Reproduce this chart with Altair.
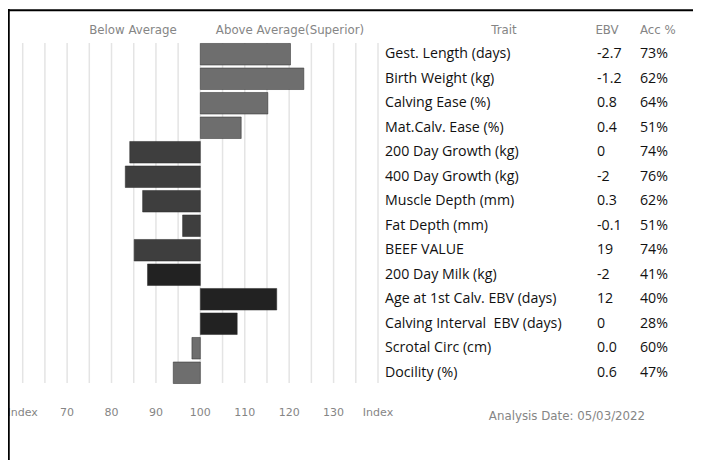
import altair as alt
import pandas as pd

traits = [
    "Gest. Length (days)", "Birth Weight (kg)", "Calving Ease (%)", "Mat.Calv. Ease (%)",
    "200 Day Growth (kg)", "400 Day Growth (kg)", "Muscle Depth (mm)", "Fat Depth (mm)",
    "BEEF VALUE", "200 Day Milk (kg)", "Age at 1st Calv. EBV (days)",
    "Calving Interval\u00a0 EBV (days)", "Scrotal Circ (cm)", "Docility (%)",
]
index_values = [120.3, 123.3, 115.2, 109.2, 84.1, 83.1, 87.0, 96.0, 85.1, 88.1, 117.2, 108.3, 98.1, 93.9]
groups = ["A", "A", "A", "A", "B", "B", "B", "B", "B", "C", "C", "C", "A", "A"]
ebv = ["-2.7", "-1.2", "0.8", "0.4", "0", "-2", "0.3", "-0.1", "19", "-2", "12", "0", "0.0", "0.6"]
acc = ["73%", "62%", "64%", "51%", "74%", "76%", "62%", "51%", "74%", "41%", "40%", "28%", "60%", "47%"]

grid_values = list(range(60, 145, 5))
tick_values = [60, 70, 80, 90, 100, 110, 120, 130, 140]
tick_labels = ["Index", "70", "80", "90", "100", "110", "120", "130", "Index"]

df = pd.DataFrame({"trait": traits, "index": index_values, "group": groups, "ebv": ebv, "acc": acc})
grid_df = pd.DataFrame({"v": grid_values})
tick_df = pd.DataFrame({"v": tick_values, "label": tick_labels})

xscale = alt.Scale(domain=[60, 140], range=[14.7, 370])
yscale = alt.Scale(domain=traits, range=[34, 377], paddingInner=0.12, paddingOuter=0.06)

W, H = 685, 452
axis_font = "DejaVu Sans"
text_font = "Open Sans"
grey = "#858585"

grid = alt.Chart(grid_df).mark_rule(color="#e4e4e4", strokeWidth=1.5).encode(
    x=alt.X("v:Q", scale=xscale, axis=None),
    y=alt.value(35), y2=alt.value(375),
)

bars = alt.Chart(df).mark_bar(strokeWidth=1, stroke="#2a2a2a", strokeOpacity=0.5).encode(
    x=alt.X("index:Q", scale=xscale, axis=None),
    x2=alt.datum(100),
    y=alt.Y("trait:N", scale=yscale, axis=None, sort=traits),
    color=alt.Color("group:N", scale=alt.Scale(domain=["A", "B", "C"], range=["#6e6e6e", "#3e3e3e", "#222222"]), legend=None),
)

ytext = alt.Y("trait:N", scale=yscale, axis=None, sort=traits)
tstyle = dict(align="left", baseline="middle", font=text_font, fontSize=14.2, color="#111")
trait_text = alt.Chart(df).mark_text(**tstyle).encode(x=alt.value(377), y=ytext, text="trait:N")
ebv_text = alt.Chart(df).mark_text(**tstyle).encode(x=alt.value(589), y=ytext, text="ebv:N")
acc_text = alt.Chart(df).mark_text(**tstyle).encode(x=alt.value(632), y=ytext, text="acc:N")

def header(txt, x, align="center", size=11.8, y=22):
    return alt.Chart(pd.DataFrame({"t": [txt]})).mark_text(
        align=align, baseline="middle", font=axis_font, fontSize=size, color=grey
    ).encode(x=alt.value(x), y=alt.value(y), text="t:N")

h1 = header("Below Average", 125)
h2 = header("Above Average(Superior)", 282)
h3 = header("Trait", 496)
h4 = header("EBV", 599)
h5 = header("Acc %", 632, "left")

ticks = alt.Chart(tick_df).mark_text(baseline="middle", font=axis_font, fontSize=11, color=grey).encode(
    x=alt.X("v:Q", scale=xscale, axis=None), y=alt.value(405), text="label:N")

date = header("Analysis Date: 05/03/2022", 559, size=11.8, y=408)

left_border = alt.Chart(pd.DataFrame({"a": [0]})).mark_rule(color="#000", strokeWidth=2.5).encode(
    x=alt.value(0.5), y=alt.value(1), y2=alt.value(H))
top_border = alt.Chart(pd.DataFrame({"a": [0]})).mark_rule(color="#000", strokeWidth=2).encode(
    y=alt.value(2.3), x=alt.value(0), x2=alt.value(W))

chart = alt.layer(
    grid, bars, trait_text, ebv_text, acc_text, h1, h2, h3, h4, h5, ticks, date, left_border, top_border
).properties(
    width=W, height=H, autosize=alt.AutoSizeParams(type="none"), padding=0, background="white"
).configure_view(stroke=None)

chart.save("out.html", embed_options={"renderer": "svg", "actions": False})
